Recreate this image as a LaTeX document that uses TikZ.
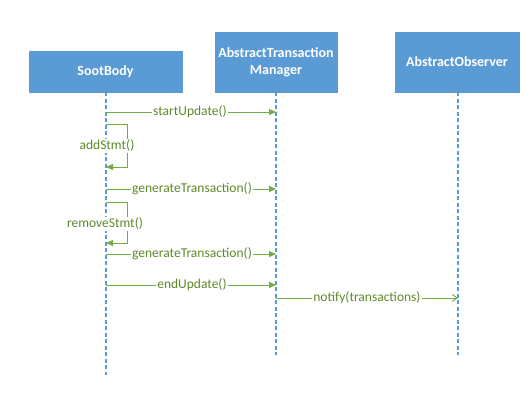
\documentclass[tikz,border=0pt]{standalone}
\usepackage{fontspec}
\setmainfont{Carlito}
\usetikzlibrary{arrows.meta}
\definecolor{boxblue}{HTML}{5B9BD5}
\definecolor{linegreen}{HTML}{70AD47}
\definecolor{textgreen}{HTML}{5E8A2A}
\tikzset{
  objbox/.style={draw=boxblue, fill=boxblue, text=white, font=\fontsize{14}{17}\selectfont\bfseries, align=center, inner sep=0pt},
  lifeline/.style={draw=boxblue, line width=1.1pt, dash pattern=on 4pt off 2.5pt},
  msg/.style={draw=linegreen, line width=0.9pt, -{Triangle[length=7pt,width=6pt]}},
  amsg/.style={draw=linegreen, line width=0.9pt, -{Straight Barb[length=5pt,width=7pt]}},
  lbl/.style={fill=white, text=textgreen, font=\fontsize{13.5}{16}\selectfont, inner sep=1pt}
}
\begin{document}
\begin{tikzpicture}[x=1pt,y=-1pt]
\useasboundingbox (0,0) rectangle (530,411);
% boxes
\node[objbox, minimum width=153pt, minimum height=41pt] (sb) at (105.5,71.5) {SootBody};
\node[objbox, minimum width=122pt, minimum height=60pt] (atm) at (276,62) {AbstractTransaction\\Manager};
\node[objbox, minimum width=124pt, minimum height=60pt] (ao) at (457,62) {AbstractObserver};
% lifeline ends
\coordinate (sbe) at (106,375);
\coordinate (atme) at (276,355);
\coordinate (aoe) at (458,355);
\draw[lifeline] (sb.south -| sbe) -- (sbe);
\draw[lifeline] (atm.south -| atme) -- (atme);
\draw[lifeline] (ao.south -| aoe) -- (aoe);
% message anchor points
\coordinate (m1a) at (106,112); \coordinate (m1b) at (276,112);
\coordinate (s1a) at (106,124); \coordinate (s1b) at (127,124);
\coordinate (s1c) at (127,167); \coordinate (s1d) at (106,167);
\coordinate (m2a) at (106,189); \coordinate (m2b) at (276,189);
\coordinate (s2a) at (106,202); \coordinate (s2b) at (127,202);
\coordinate (s2c) at (127,243); \coordinate (s2d) at (106,243);
\coordinate (m3a) at (106,254); \coordinate (m3b) at (276,254);
\coordinate (m4a) at (106,285); \coordinate (m4b) at (276,285);
\coordinate (m5a) at (276,298); \coordinate (m5b) at (458,298);
% messages
\draw[msg] (m1a) -- (m1b);
\node[lbl] (l1) at (190,112) {startUpdate()};
\draw[msg] (s1a) -- (s1b) -- (s1c) -- (s1d);
\node[lbl] (l2) at (107,146) {addStmt()};
\draw[msg] (m2a) -- (m2b);
\node[lbl] (l3) at (192,189) {generateTransaction()};
\draw[msg] (s2a) -- (s2b) -- (s2c) -- (s2d);
\node[lbl] (l4) at (105,224) {removeStmt()};
\draw[msg] (m3a) -- (m3b);
\node[lbl] (l5) at (192,254) {generateTransaction()};
\draw[msg] (m4a) -- (m4b);
\node[lbl] (l6) at (192,285) {endUpdate()};
\draw[amsg] (m5a) -- (m5b);
\node[lbl] (l7) at (367,298) {notify(transactions)};
\end{tikzpicture}
\end{document}
